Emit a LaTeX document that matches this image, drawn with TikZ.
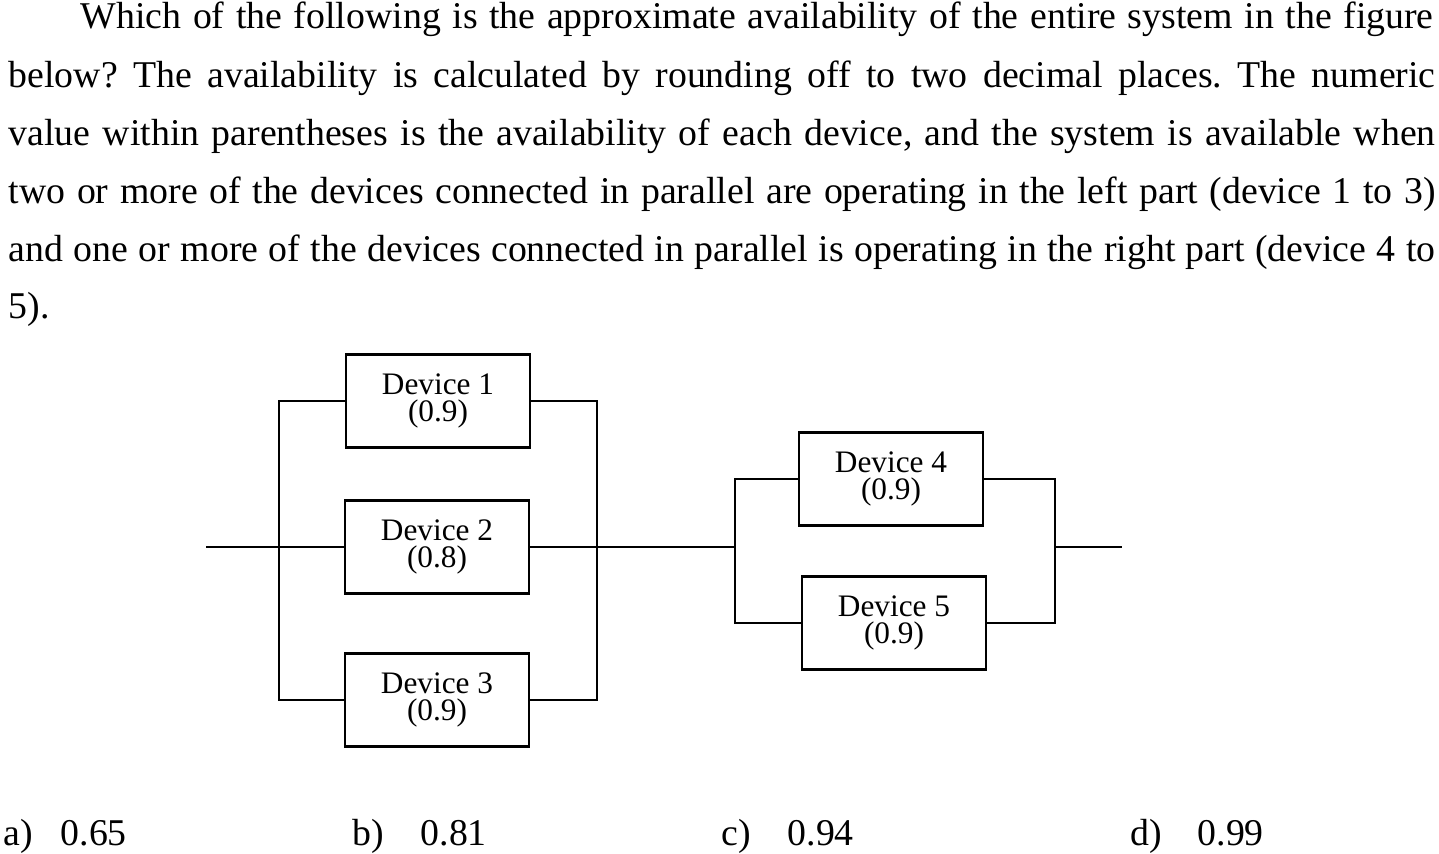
\documentclass[tikz,border=0pt]{standalone}
\usepackage{fontspec}
\setmainfont{Liberation Serif}
\usepackage{tikz}
\frenchspacing
\tikzstyle{device}=[draw,line width=0.7pt,minimum width=1.84cm,minimum height=0.93cm,inner sep=0pt,align=center,font=\fontsize{8.9}{7.9}\selectfont]
\tikzstyle{wire}=[line width=0.7pt]
\tikzstyle{qline}=[anchor=base west,inner sep=0pt,font=\fontsize{10.75}{13}\selectfont]

\begin{document}
\begin{tikzpicture}[x=0.01cm,y=-0.01cm]
  \useasboundingbox (0,0) rectangle (1439,853);
  \def\lw{14.26cm}

  % question
  \node[qline] (q1) at (80,28) {\makebox[13.52cm][s]{Which of the following is the approximate availability of the entire system in the figure}};
  \node[qline] (q2) at (8,87) {\makebox[\lw][s]{below? The availability is calculated by rounding off to two decimal places. The numeric}};
  \node[qline] (q3) at (8,145) {\makebox[\lw][s]{value within parentheses is the availability of each device, and the system is available when}};
  \node[qline] (q4) at (8,203) {\makebox[\lw][s]{two or more of the devices connected in parallel are operating in the left part (device 1 to 3)}};
  \node[qline] (q5) at (8,261) {\makebox[\lw][s]{and one or more of the devices connected in parallel is operating in the right part (device 4 to}};
  \node[qline] (q6) at (8,318) {5).};

  % devices
  \node[device] (dev1) at (438,401) {Device 1\\(0.9)};
  \node[device] (dev2) at (437,547) {Device 2\\(0.8)};
  \node[device] (dev3) at (437,700) {Device 3\\(0.9)};
  \node[device] (dev4) at (891,479) {Device 4\\(0.9)};
  \node[device] (dev5) at (894,623) {Device 5\\(0.9)};

  \coordinate (in) at (206,547);
  \coordinate (ljoin) at (279,547);
  \coordinate (rjoin) at (597,547);
  \coordinate (mjoin) at (735,547);
  \coordinate (ojoin) at (1055,547);
  \coordinate (out) at (1122,547);

  \draw[wire] (in) -- (dev2.west);
  \draw[wire] (dev1.west) -| (ljoin) |- (dev3.west);
  \draw[wire] (dev1.east) -| (rjoin) |- (dev3.east);
  \draw[wire] (dev2.east) -- (mjoin);
  \draw[wire] (dev4.west) -| (mjoin) |- (dev5.west);
  \draw[wire] (dev4.east) -| (ojoin) |- (dev5.east);
  \draw[wire] (ojoin) -- (out);

  % answers
  \foreach \l/\xl/\xv/\v in {a/3/60/0.65, b/352/420/0.81, c/721/787/0.94, d/1130/1197/0.99}{
    \node[qline] (opt\l) at (\xl,845) {\l)};
    \node[qline] (val\l) at (\xv,845) {\v};
  }
\end{tikzpicture}
\end{document}
